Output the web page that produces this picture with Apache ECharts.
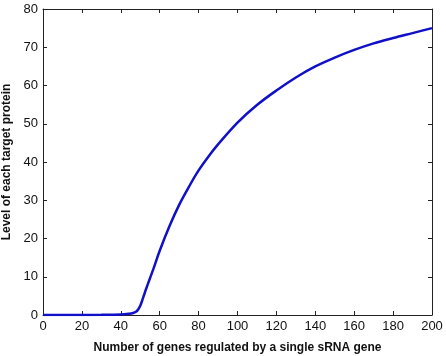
<!DOCTYPE html>
<html>
<head>
<meta charset="utf-8">
<script src="https://cdn.jsdelivr.net/npm/echarts@6/dist/echarts.min.js"></script>
<style>
html, body { margin: 0; padding: 0; background: #fff; }
#chart { width: 446px; height: 356px; }
</style>
</head>
<body>
<div id="chart"></div>
<script>
// number of genes regulated (x) and target protein level (y)
const geneCounts = [0, 10, 20, 30, 40, 44, 46, 48, 49, 50, 51, 52, 53, 55, 57, 60, 65, 70, 75, 80, 85, 90, 100, 110, 120, 130, 140, 150, 160, 170, 180, 190, 200]
const proteinLevels = [0, 0, 0.02, 0.05, 0.15, 0.3, 0.45, 0.9, 1.5, 2.4, 3.8, 5.3, 6.8, 9.6, 12.4, 16.8, 23.2, 28.8, 33.5, 37.8, 41.4, 44.6, 50.3, 54.9, 58.7, 62.1, 65, 67.3, 69.3, 71.0, 72.4, 73.7, 75]
const xTicks = [0, 20, 40, 60, 80, 100, 120, 140, 160, 180, 200]
const yTicks = [0, 10, 20, 30, 40, 50, 60, 70, 80]

let myChart = echarts.init(document.getElementById('chart'))
let axisLine = { show: true, onZero: false, lineStyle: { color: '#222', width: 1 } }
let tick = { show: true, inside: true, length: 4, lineStyle: { color: '#222' } }
let labelFont = { color: '#111', fontSize: 13, fontFamily: 'Liberation Sans' }
let nameFont = { color: '#111', fontSize: 12, fontWeight: 'bold', fontFamily: 'Liberation Sans' }

let data = geneCounts.map((x, i) => [x, proteinLevels[i]])

let option = {
    animation: false,
    grid: { left: 43, right: 14, top: 9, bottom: 41, containLabel: false, outerBoundsMode: 'none' },
    xAxis: [{
        type: 'value', min: xTicks[0], max: xTicks[xTicks.length - 1], interval: 20, position: 'bottom',
        name: 'Number of genes regulated by a single sRNA gene',
        nameLocation: 'middle', nameGap: 27, nameTextStyle: nameFont,
        axisLine: axisLine, axisTick: tick, splitLine: { show: false },
        axisLabel: Object.assign({ margin: 5 }, labelFont)
    }, {
        type: 'value', min: xTicks[0], max: xTicks[xTicks.length - 1], interval: 20, position: 'top',
        axisLine: axisLine, axisTick: tick, splitLine: { show: false },
        axisLabel: { show: false }
    }],
    yAxis: [{
        type: 'value', min: yTicks[0], max: yTicks[yTicks.length - 1], interval: 10, position: 'left',
        name: 'Level of each target protein',
        nameLocation: 'middle', nameGap: 28, nameTextStyle: nameFont,
        axisLine: axisLine, axisTick: tick, splitLine: { show: false },
        axisLabel: Object.assign({ margin: 5 }, labelFont)
    }, {
        type: 'value', min: yTicks[0], max: yTicks[yTicks.length - 1], interval: 10, position: 'right',
        axisLine: axisLine, axisTick: tick, splitLine: { show: false },
        axisLabel: { show: false }
    }],
    series: [{
        type: 'line',
        data: data,
        showSymbol: false,
        smooth: 0.35,
        lineStyle: { color: '#1010c8', width: 2.5 }
    }]
}
myChart.setOption(option)
</script>
</body>
</html>
